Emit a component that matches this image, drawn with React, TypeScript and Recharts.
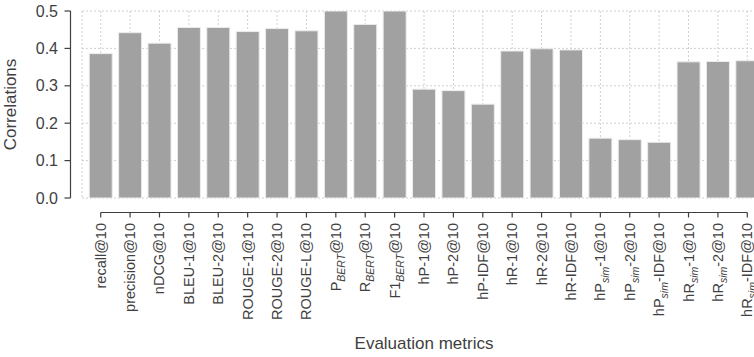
import React from "react";
import { BarChart, Bar, XAxis, YAxis, CartesianGrid } from "recharts";

// metric names, "_{...}" marks a subscript
const metrics = [
  "recall@10",
  "precision@10",
  "nDCG@10",
  "BLEU-1@10",
  "BLEU-2@10",
  "ROUGE-1@10",
  "ROUGE-2@10",
  "ROUGE-L@10",
  "P_{BERT}@10",
  "R_{BERT}@10",
  "F1_{BERT}@10",
  "hP-1@10",
  "hP-2@10",
  "hP-IDF@10",
  "hR-1@10",
  "hR-2@10",
  "hR-IDF@10",
  "hP_{sim}-1@10",
  "hP_{sim}-2@10",
  "hP_{sim}-IDF@10",
  "hR_{sim}-1@10",
  "hR_{sim}-2@10",
  "hR_{sim}-IDF@10",
];

const correlations = [
  0.386, 0.442, 0.414, 0.456, 0.456, 0.445, 0.453, 0.447, 0.5, 0.464, 0.5,
  0.291, 0.287, 0.251, 0.393, 0.399, 0.396, 0.16, 0.156, 0.149, 0.364, 0.365,
  0.367,
];

const yTicks = [0, 0.1, 0.2, 0.3, 0.4, 0.5];

const data = metrics.map((m, i) => ({ metric: m, value: correlations[i] }));

const FONT = "'Liberation Sans', Arial, Helvetica, sans-serif";
const INK = "#3f3f3f";
const WIDTH = 766;
const HEIGHT = 357;
const PLOT_LEFT = 82;
const PLOT_TOP = 11;
const X_AXIS_H = 159;
const PAD = 4;
const PLOT_H = HEIGHT - X_AXIS_H - PLOT_TOP;
const BAND = (WIDTH - PLOT_LEFT - 2 * PAD) / metrics.length;
const SPINE_X = PLOT_LEFT - 11.5;
const SPINE_DY = 14.5;

function renderLabel(label: string) {
  const parts = label.split(/(_\{[^}]*\})/).filter((p) => p !== "");
  let shifted = false;
  return parts.map((p, i) => {
    if (p.startsWith("_{")) {
      shifted = true;
      return (
        <tspan key={i} fontSize={10.5} fontStyle="italic" dy={4}>
          {p.slice(2, -1)}
        </tspan>
      );
    }
    const dy = shifted ? -4 : undefined;
    shifted = false;
    return (
      <tspan key={i} dy={dy}>
        {p}
      </tspan>
    );
  });
}

const XTick = (props: any) => {
  const { x, y, payload, index } = props;
  const sy = y + SPINE_DY - 8;
  return (
    <g>
      {index === 0 && (
        <line
          x1={x}
          x2={x + BAND * (metrics.length - 1)}
          y1={sy}
          y2={sy}
          stroke={INK}
          strokeWidth={1.2}
        />
      )}
      <line x1={x} x2={x} y1={sy} y2={sy + 5} stroke={INK} strokeWidth={1.2} />
      <text
        transform={`translate(${x + 5},${sy + 10.5}) rotate(-90)`}
        textAnchor="end"
        fontSize={14.5}
        fontFamily={FONT}
        fill={INK}
      >
        {renderLabel(payload.value)}
      </text>
    </g>
  );
};

const YTick = (props: any) => {
  const { y, payload } = props;
  return (
    <g>
      {payload.value === 0.5 && (
        <line
          x1={SPINE_X}
          x2={SPINE_X}
          y1={y}
          y2={y + PLOT_H}
          stroke={INK}
          strokeWidth={1.2}
        />
      )}
      <line x1={SPINE_X - 6} x2={SPINE_X} y1={y} y2={y} stroke={INK} strokeWidth={1.2} />
      <text
        x={SPINE_X - 12.5}
        y={y + 5.5}
        textAnchor="end"
        fontSize={16}
        fontFamily={FONT}
        fill={INK}
      >
        {payload.value.toFixed(1)}
      </text>
    </g>
  );
};

export default function App() {
  return (
    <div
      style={{
        position: "fixed",
        left: 0,
        top: 0,
        width: 754,
        height: 357,
        overflow: "hidden",
        background: "#fff",
      }}
    >
      <BarChart
        width={WIDTH}
        height={HEIGHT}
        data={data}
        margin={{ top: PLOT_TOP, right: 0, bottom: 0, left: 0 }}
        barCategoryGap="11%"
      >
        <CartesianGrid stroke="#d0d0d0" strokeDasharray="2 2" />
        <XAxis
          dataKey="metric"
          interval={0}
          height={X_AXIS_H}
          padding={{ left: PAD, right: PAD }}
          axisLine={false}
          tickLine={false}
          tick={<XTick />}
          label={{
            value: "Evaluation metrics",
            position: "insideBottom",
            offset: 8,
            fontSize: 17,
            fontFamily: FONT,
            fill: INK,
          }}
        />
        <YAxis
          domain={[0, 0.5]}
          ticks={yTicks}
          allowDataOverflow
          width={PLOT_LEFT}
          axisLine={false}
          tickLine={false}
          tick={<YTick />}
          label={{
            value: "Correlations",
            angle: -90,
            position: "insideLeft",
            offset: 10,
            style: { textAnchor: "middle" },
            fontSize: 17,
            fontFamily: FONT,
            fill: INK,
          }}
        />
        <Bar
          dataKey="value"
          fill="#a1a1a1"
          stroke="#ececec"
          strokeWidth={1}
          isAnimationActive={false}
        />
      </BarChart>
    </div>
  );
}
